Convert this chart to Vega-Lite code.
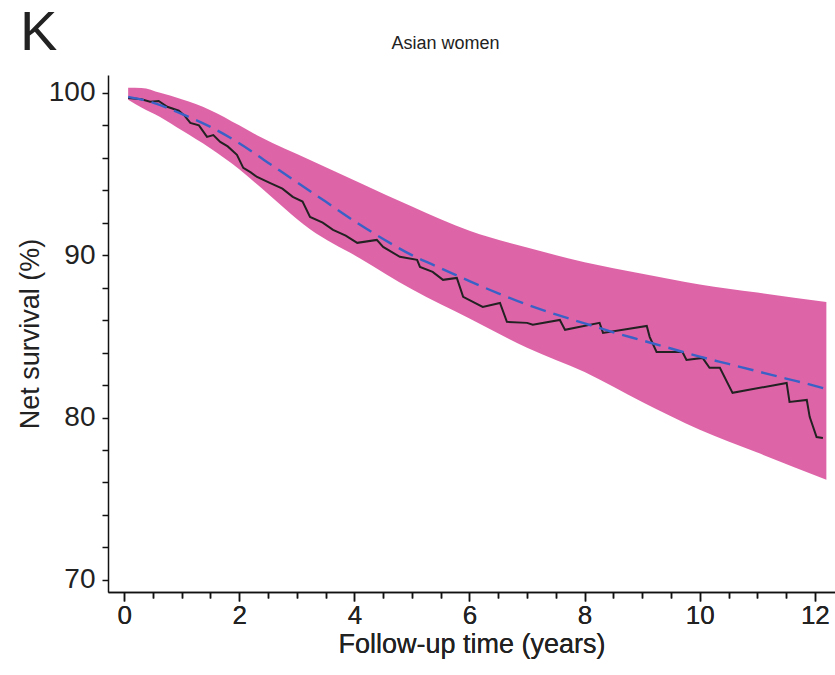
{
  "$schema": "https://vega.github.io/schema/vega-lite/v6.json",
  "autosize": "none",
  "padding": {"left": 108, "top": 75, "right": 0, "bottom": 83},
  "width": 727,
  "height": 517,
  "background": "white",
  "title": {"text": "K", "anchor": "start", "frame": "group", "dx": -88, "dy": 34, "fontSize": 56, "fontWeight": "normal", "font": "Liberation Sans", "color": "#222222", "offset": 6},
  "config": {
    "view": {"stroke": null},
    "axis": {"labelFont": "Liberation Sans", "titleFont": "Liberation Sans", "labelColor": "#222222", "titleColor": "#222222", "domainColor": "#111111", "tickColor": "#111111", "grid": false, "titleFontWeight": "normal", "labelOverlap": false}
  },
  "datasets": {
    "band": [
      {"t": 0.07, "s": 99.57, "hi": 100.31},
      {"t": 0.3, "s": 99.1, "hi": 100.3},
      {"t": 0.625, "s": 98.52, "hi": 100.0},
      {"t": 1.0, "s": 97.7, "hi": 99.6},
      {"t": 1.49, "s": 96.61, "hi": 98.95},
      {"t": 2.0, "s": 95.3, "hi": 98.0},
      {"t": 2.36, "s": 94.21, "hi": 97.29},
      {"t": 3.23, "s": 91.6, "hi": 95.87},
      {"t": 4.1, "s": 89.8, "hi": 94.45},
      {"t": 5.0, "s": 87.9, "hi": 93.0},
      {"t": 6.0, "s": 86.1, "hi": 91.5},
      {"t": 7.0, "s": 84.3, "hi": 90.47},
      {"t": 8.0, "s": 82.8, "hi": 89.57},
      {"t": 9.0, "s": 80.95, "hi": 88.86},
      {"t": 10.0, "s": 79.24, "hi": 88.2},
      {"t": 11.0, "s": 77.84, "hi": 87.7},
      {"t": 12.2, "s": 76.16, "hi": 87.12}
    ],
    "model": [
      {"t": 0.07, "s": 99.75}, {"t": 0.5, "s": 99.4}, {"t": 1.0, "s": 98.7}, {"t": 1.5, "s": 97.9},
      {"t": 2.0, "s": 96.9}, {"t": 2.5, "s": 95.7}, {"t": 3.0, "s": 94.5}, {"t": 3.5, "s": 93.3},
      {"t": 4.0, "s": 92.1}, {"t": 4.5, "s": 91.0}, {"t": 5.0, "s": 90.0}, {"t": 5.5, "s": 89.2},
      {"t": 6.0, "s": 88.4}, {"t": 6.5, "s": 87.65}, {"t": 7.0, "s": 86.95}, {"t": 7.5, "s": 86.35},
      {"t": 8.0, "s": 85.8}, {"t": 8.5, "s": 85.25}, {"t": 9.0, "s": 84.75}, {"t": 9.5, "s": 84.25},
      {"t": 10.0, "s": 83.75}, {"t": 10.5, "s": 83.3}, {"t": 11.0, "s": 82.85}, {"t": 11.5, "s": 82.4},
      {"t": 12.0, "s": 81.95}, {"t": 12.2, "s": 81.75}
    ],
    "obs": [
      {"t": 0.07, "s": 99.69}, {"t": 0.3, "s": 99.6}, {"t": 0.45, "s": 99.45}, {"t": 0.6, "s": 99.5}, {"t": 0.75, "s": 99.14}, {"t": 0.95, "s": 98.9},
      {"t": 1.05, "s": 98.6}, {"t": 1.15, "s": 98.15}, {"t": 1.3, "s": 98.0}, {"t": 1.44, "s": 97.29}, {"t": 1.55, "s": 97.4}, {"t": 1.67, "s": 96.98},
      {"t": 1.8, "s": 96.7}, {"t": 1.96, "s": 96.18}, {"t": 2.07, "s": 95.38}, {"t": 2.2, "s": 95.1}, {"t": 2.31, "s": 94.82}, {"t": 2.53, "s": 94.45},
      {"t": 2.75, "s": 94.1}, {"t": 2.93, "s": 93.59}, {"t": 3.1, "s": 93.3}, {"t": 3.23, "s": 92.36},
      {"t": 3.45, "s": 92.0}, {"t": 3.63, "s": 91.56}, {"t": 3.85, "s": 91.2}, {"t": 4.05, "s": 90.76},
      {"t": 4.39, "s": 90.94}, {"t": 4.5, "s": 90.51}, {"t": 4.79, "s": 89.9}, {"t": 5.09, "s": 89.71},
      {"t": 5.14, "s": 89.28}, {"t": 5.36, "s": 88.97}, {"t": 5.54, "s": 88.48}, {"t": 5.78, "s": 88.6},
      {"t": 5.89, "s": 87.43}, {"t": 6.23, "s": 86.81}, {"t": 6.53, "s": 87.06}, {"t": 6.65, "s": 85.89},
      {"t": 7.0, "s": 85.83}, {"t": 7.1, "s": 85.71}, {"t": 7.57, "s": 86.01}, {"t": 7.66, "s": 85.4},
      {"t": 8.26, "s": 85.83}, {"t": 8.32, "s": 85.21}, {"t": 9.08, "s": 85.64}, {"t": 9.13, "s": 84.97},
      {"t": 9.25, "s": 84.04}, {"t": 9.7, "s": 84.04}, {"t": 9.77, "s": 83.55}, {"t": 10.05, "s": 83.67},
      {"t": 10.17, "s": 83.06}, {"t": 10.35, "s": 83.06}, {"t": 10.57, "s": 81.52}, {"t": 11.51, "s": 82.13},
      {"t": 11.56, "s": 80.96}, {"t": 11.86, "s": 81.08}, {"t": 11.91, "s": 80.04}, {"t": 12.03, "s": 78.8},
      {"t": 12.14, "s": 78.74}
    ]
  },
  "encoding": {
    "x": {"field": "t", "type": "quantitative", "scale": {"domain": [-0.28, 12.35], "nice": false, "zero": false},
      "axis": {"orient": "bottom", "values": [0,0.5,1,1.5,2,2.5,3,3.5,4,4.5,5,5.5,6,6.5,7,7.5,8,8.5,9,9.5,10,10.5,11,11.5,12],
        "labelExpr": "datum.value % 2 === 0 ? format(datum.value, 'd') : ''", "tickSize": {"condition": {"test": "datum.value % 2 === 0", "value": 9}, "value": 6},
        "labelOverlap": false, "tickWidth": 1.5, "domainWidth": 1.5, "labelFontSize": 26, "labelPadding": 1, "title": "Follow-up time (years)", "titleFontSize": 27, "titlePadding": 3}},
    "y": {"field": "s", "type": "quantitative", "scale": {"domain": [69.25, 101.1], "nice": false, "zero": false},
      "axis": {"values": [70,72,74,76,78,80,82,84,86,88,90,92,94,96,98,100], "labelExpr": "datum.value % 10 === 0 ? format(datum.value, 'd') : ''",
        "labelOverlap": false, "tickSize": 6, "tickWidth": 1.5, "domainWidth": 1.5, "labelFontSize": 28, "labelPadding": 7, "title": "Net survival (%)", "titleFontSize": 27, "titlePadding": 4}}
  },
  "layer": [
    {
      "data": {"name": "band"},
      "mark": {"type": "area", "color": "#de64a8", "opacity": 1, "interpolate": "monotone"},
      "encoding": {"y2": {"field": "hi"}}
    },
    {
      "data": {"name": "obs"},
      "mark": {"type": "line", "color": "#222222", "strokeWidth": 2},
      "encoding": {
        "x": {"field": "t", "type": "quantitative",
          "axis": {"orient": "top", "domain": false, "ticks": false, "labels": false, "title": "Asian women", "titleFontSize": 18, "titleX": 337, "titlePadding": 23}}
      }
    },
    {
      "data": {"name": "model"},
      "mark": {"type": "line", "color": "#3a62c6", "strokeWidth": 2.4, "strokeDash": [16, 8], "interpolate": "monotone"},
      "encoding": {}
    }
  ],
  "resolve": {"axis": {"x": "independent"}}
}
